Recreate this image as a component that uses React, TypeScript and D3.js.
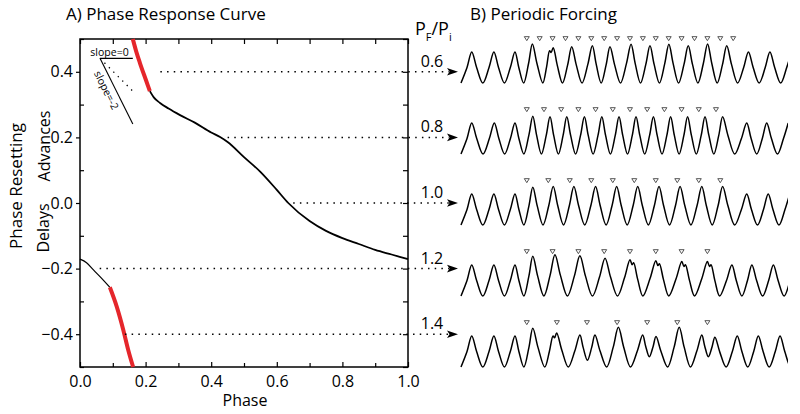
import React, { useEffect, useRef } from 'react';
import * as d3 from 'd3';

// A) phase response curve as [phase, resetting]
const prcUpperRed: [number, number][] = [
  [0.161, 0.5], [0.172, 0.46], [0.183, 0.426], [0.201, 0.375], [0.213, 0.341],
];
const prcUpperBlack: [number, number][] = [
  [0.213, 0.341], [0.225, 0.322], [0.244, 0.305], [0.27, 0.288], [0.305, 0.268],
  [0.35, 0.245], [0.4, 0.215], [0.427, 0.201], [0.45, 0.186], [0.5, 0.14],
  [0.55, 0.095], [0.6, 0.04], [0.635, 0.0], [0.7, -0.055], [0.75, -0.085],
  [0.8, -0.107], [0.85, -0.125], [0.9, -0.143], [0.95, -0.157], [1.0, -0.171],
];
const prcLowerBlack: [number, number][] = [
  [0, -0.171], [0.02, -0.182], [0.041, -0.204], [0.071, -0.235], [0.091, -0.257],
];
const prcLowerRed: [number, number][] = [
  [0.091, -0.257], [0.112, -0.316], [0.132, -0.387], [0.147, -0.448], [0.162, -0.5],
];

const xMajor = [0, 0.2, 0.4, 0.6, 0.8, 1.0];
const xMinor = [0.1, 0.3, 0.5, 0.7, 0.9];
const yMajor = [-0.4, -0.2, 0, 0.2, 0.4];
const yMinor = [-0.5, -0.3, -0.1, 0.1, 0.3, 0.5];

// forcing ratios and the resetting level each one points from
const ratios = ['0.6', '0.8', '1.0', '1.2', '1.4'];
const levels = [0.4, 0.2, 0.0, -0.2, -0.4];
const dotStart = [0.245, 0.45, 0.65, 0.06, 0.137];

// slope guides drawn at the top-left
const slopes = [0, -1, -2];

// B) periodic forcing: peak times (in intrinsic periods) and peak heights
const peaks06 = [0.5, 1.53, 2.51, 3.32, 4.29, 5.15, 6.11, 6.93, 7.91, 8.79, 9.67, 10.57, 11.47, 12.36, 13.37, 14.37, 15.37];
const heights06 = [1, 1, 1, 1.26, 1.14, 1.17, 1.2, 1.17, 1.25, 1.2, 1.25, 1.2, 1.26, 1.2, 1, 1, 1];
const peaks08 = [0.5, 1.55, 2.51, 3.34, 4.14, 4.92, 5.74, 6.55, 7.35, 8.14, 8.95, 9.75, 10.54, 11.35, 12.17, 13.29, 14.22, 15.22];
const heights08 = [1, 1, 1, 1.22, 1.2, 1.2, 1.2, 1.2, 1.2, 1.2, 1.2, 1.2, 1.2, 1.2, 1.2, 1, 1, 1];
const peaks10 = [0.5, 1.53, 2.51, 3.34, 4.29, 5.25, 6.26, 7.24, 8.22, 9.21, 10.19, 11.2, 12.17, 13.29, 14.29, 15.29];
const heights10 = [1, 1, 1, 1.22, 1.24, 1.24, 1.24, 1.24, 1.24, 1.24, 1.24, 1.24, 1.24, 1, 1, 1];
const peaks12 = [0.5, 1.53, 2.51, 3.34, 4.37, 5.53, 6.7, 7.86, 9.06, 10.27, 11.46, 12.6, 13.53, 14.53, 15.53];
const heights12 = [1, 1, 1, 1.28, 1.33, 1.3, 1.22, 1.17, 1.14, 1.11, 1.11, 1, 1, 1, 1];
const peaks14 = [0.5, 1.53, 2.51, 3.34, 4.45, 5.53, 6.23, 7.32, 8.45, 9.07, 10.15, 11.2, 11.81, 12.85, 13.83, 14.84, 15.84];
const heights14 = [1, 1, 1, 1.25, 1.1, 1.03, 1.03, 1.28, 1.03, 0.98, 1.28, 1.03, 0.96, 1, 1, 1, 1];

// stimulus times (triangles)
const stim06 = [3.06, 3.66, 4.26, 4.86, 5.46, 6.06, 6.66, 7.26, 7.86, 8.46, 9.06, 9.66, 10.26, 10.86, 11.46, 12.06, 12.66];
const stim08 = [3.06, 3.86, 4.66, 5.46, 6.26, 7.06, 7.86, 8.66, 9.46, 10.26, 11.06, 11.86];
const stim10 = [3.06, 4.06, 5.06, 6.06, 7.06, 8.06, 9.06, 10.06, 11.06, 12.06];
const stim12 = [3.06, 4.26, 5.46, 6.66, 7.86, 9.06, 10.26, 11.46];
const stim14 = [3.06, 4.46, 5.86, 7.26, 8.66, 10.06, 11.46];

// notched peaks and troughs that do not go all the way down
const notches = [
  { row: 0, peak: 4, side: -1 },
  { row: 3, peak: 7, side: 1 },
  { row: 3, peak: 8, side: 1 },
  { row: 3, peak: 9, side: 1 },
  { row: 3, peak: 10, side: 1 },
  { row: 4, peak: 4, side: -1 },
];
const raisedTroughs = [
  { row: 4, after: 5, level: 0.22 },
  { row: 4, after: 8, level: 0.33 },
  { row: 4, after: 11, level: 0.33 },
];

const allPeaks = [peaks06, peaks08, peaks10, peaks12, peaks14];
const allHeights = [heights06, heights08, heights10, heights12, heights14];
const allStims = [stim06, stim08, stim10, stim12, stim14];

export default function App() {
  const svgRef = useRef<SVGSVGElement>(null);

  useEffect(() => {
    if (!svgRef.current) return;
    const svg = d3.select(svgRef.current);
    svg.selectAll('*').remove();
    const font = "'Open Sans', sans-serif";

    const x = d3.scaleLinear().domain([0, 1]).range([80, 408]);
    const y = d3.scaleLinear().domain([-0.5, 0.5]).range([367, 39]);

    // titles
    svg.append('text').attr('x', 66).attr('y', 19.5).attr('font-size', 17)
      .attr('font-family', font).text('A) Phase Response Curve');
    svg.append('text').attr('x', 470).attr('y', 19.5).attr('font-size', 17)
      .attr('font-family', font).text('B) Periodic Forcing');

    const pf = svg.append('text').attr('x', 415).attr('y', 35).attr('font-size', 18)
      .attr('font-family', font);
    pf.append('tspan').text('P');
    pf.append('tspan').attr('font-size', 11).attr('dy', 6).text('F');
    pf.append('tspan').attr('dy', -6).text('/P');
    pf.append('tspan').attr('font-size', 11).attr('dy', 6).text('i');

    // axes
    const g = svg.append('g');
    const styleAxis = (sel: any) => {
      sel.select('.domain').remove();
      sel.selectAll('line').attr('stroke', '#000').attr('stroke-width', 1.2);
      sel.selectAll('text').attr('font-size', 16).attr('font-family', font).attr('fill', '#000');
    };
    g.append('g').attr('transform', 'translate(0,367)')
      .call(d3.axisBottom(x).tickValues(xMajor).tickSize(-5).tickPadding(9).tickFormat(d3.format('.1f')))
      .call(styleAxis);
    g.append('g').attr('transform', 'translate(0,367)')
      .call(d3.axisBottom(x).tickValues(xMinor).tickSize(-4).tickFormat(() => ''))
      .call(styleAxis);
    g.append('g').attr('transform', 'translate(0,39)')
      .call(d3.axisTop(x).tickValues([...xMajor, ...xMinor]).tickSize(-5).tickFormat(() => ''))
      .call(styleAxis);
    g.append('g').attr('transform', 'translate(80,0)')
      .call(d3.axisLeft(y).tickValues(yMajor).tickSize(4).tickPadding(3).tickFormat(d3.format('.1f')))
      .call(styleAxis);
    g.append('g').attr('transform', 'translate(80,0)')
      .call(d3.axisLeft(y).tickValues(yMinor).tickSize(-4).tickFormat(() => ''))
      .call(styleAxis);
    g.append('g').attr('transform', 'translate(408,0)')
      .call(d3.axisRight(y).tickValues([...yMajor, ...yMinor]).tickSize(-5).tickFormat(() => ''))
      .call(styleAxis);
    g.append('rect').attr('x', 80).attr('y', 39).attr('width', 328).attr('height', 328)
      .attr('fill', 'none').attr('stroke', '#000').attr('stroke-width', 1.5);

    svg.append('text').attr('x', 245).attr('y', 406).attr('text-anchor', 'middle')
      .attr('font-size', 16).attr('font-family', font).text('Phase');
    svg.append('text').attr('transform', 'translate(22,186) rotate(-90)').attr('text-anchor', 'middle')
      .attr('font-size', 17).attr('font-family', font).text('Phase Resetting');
    svg.append('text').attr('transform', 'translate(50,146) rotate(-90)').attr('text-anchor', 'middle')
      .attr('font-size', 16).attr('font-family', font).text('Advances');
    svg.append('text').attr('transform', 'translate(49,228) rotate(-90)').attr('text-anchor', 'middle')
      .attr('font-size', 16).attr('font-family', font).text('Delays');

    // slope guides
    const anchor: [number, number] = [0.061, 0.441];
    slopes.forEach((s) => {
      svg.append('line')
        .attr('x1', x(anchor[0])).attr('y1', y(anchor[1]))
        .attr('x2', x(anchor[0] + 0.1)).attr('y2', y(anchor[1] + s * 0.1))
        .attr('stroke', '#000').attr('stroke-width', s === -1 ? 1.3 : 1.1)
        .attr('stroke-dasharray', s === -1 ? '1.3 5' : null);
    });
    svg.append('text').attr('x', 109.5).attr('y', 56).attr('text-anchor', 'middle')
      .attr('font-size', 10.5).attr('font-family', font).text('slope=0');
    const ang = (Math.atan2(y(anchor[1] - 0.2) - y(anchor[1]), x(anchor[0] + 0.1) - x(anchor[0])) * 180) / Math.PI;
    svg.append('text').attr('transform', `translate(103,92) rotate(${ang})`).attr('text-anchor', 'middle')
      .attr('font-size', 10.5).attr('font-family', font).text('slope=-2');

    // PRC
    const line = d3.line<[number, number]>().x((d) => x(d[0])).y((d) => y(d[1])).curve(d3.curveMonotoneX);
    svg.append('path').attr('d', line(prcUpperBlack)).attr('fill', 'none').attr('stroke', '#000').attr('stroke-width', 1.8);
    svg.append('path').attr('d', line(prcLowerBlack)).attr('fill', 'none').attr('stroke', '#000').attr('stroke-width', 1.2);
    svg.append('path').attr('d', line(prcUpperRed)).attr('fill', 'none').attr('stroke', '#e5262b').attr('stroke-width', 4);
    svg.append('path').attr('d', line(prcLowerRed)).attr('fill', 'none').attr('stroke', '#e5262b').attr('stroke-width', 4);

    // dotted arrows and ratio labels
    levels.forEach((lv, i) => {
      const yy = y(lv);
      svg.append('line').attr('x1', x(dotStart[i])).attr('x2', 449).attr('y1', yy).attr('y2', yy)
        .attr('stroke', '#000').attr('stroke-width', 1.5).attr('stroke-dasharray', '1.5 5.2');
      svg.append('path')
        .attr('d', `M458,${yy} L447,${yy - 3.8} L449.5,${yy} L447,${yy + 3.8} Z`)
        .attr('fill', '#000');
      svg.append('text').attr('x', 432).attr('y', yy - 5).attr('text-anchor', 'middle')
        .attr('font-size', 16).attr('font-family', font).text(ratios[i]);
    });

    // traces
    const t = d3.scaleLinear().domain([0, 15.21]).range([461, 788]);
    const row = d3.scalePoint<string>().domain(ratios).range([83, 367]);
    const amp = d3.scaleLinear().domain([0, 1]).range([0, -31]);
    svg.append('clipPath').attr('id', 'tr').append('rect')
      .attr('x', t(0) - 2).attr('y', 0).attr('width', t(15.21) - t(0) + 2).attr('height', 414);
    const trace = d3.line<[number, number]>().x((d) => t(d[0])).curve(d3.curveCatmullRom.alpha(0.5));

    ratios.forEach((r, ri) => {
      const base = row(r)!;
      const pk = allPeaks[ri];
      const hs = allHeights[ri];
      const ext: [number, number][] = [[pk[0] - 0.5, 0]];
      pk.forEach((p, i) => {
        if (i > 0) {
          const rt = raisedTroughs.find((q) => q.row === ri && q.after === i - 1);
          ext.push([(pk[i - 1] + p) / 2, rt ? rt.level : 0]);
        }
        const n = notches.find((q) => q.row === ri && q.peak === i);
        if (n && n.side < 0) {
          ext.push([p - 0.17, hs[i] - 0.1], [p - 0.1, hs[i] - 0.16]);
        }
        ext.push([p, hs[i]]);
        if (n && n.side > 0) {
          ext.push([p + 0.1, hs[i] - 0.16], [p + 0.17, hs[i] - 0.1]);
        }
      });
      // slightly narrow peaks, broad troughs
      const pts: [number, number][] = [ext[0]];
      for (let i = 1; i < ext.length; i++) {
        const [t0, v0] = ext[i - 1];
        const [t1, v1] = ext[i];
        if (t1 - t0 > 0.2) {
          const f = v1 > v0 ? 0.56 : 0.44;
          pts.push([t0 + f * (t1 - t0), (v0 + v1) / 2]);
        }
        pts.push(ext[i]);
      }
      svg.append('path')
        .attr('d', trace.y((d) => base + amp(d[1]))(pts))
        .attr('clip-path', 'url(#tr)')
        .attr('fill', 'none').attr('stroke', '#000').attr('stroke-width', 1.5);

      svg.append('g').selectAll('path').data(allStims[ri]).join('path')
        .attr('transform', (d) => `translate(${t(d)},${base + amp(1.43)})`)
        .attr('d', 'M-2.5,-2 L2.5,-2 L0,2 Z')
        .attr('fill', '#fff').attr('stroke', '#444').attr('stroke-width', 0.9);
    });
  }, []);

  return (
    <svg
      ref={svgRef}
      width={800}
      height={414}
      style={{ position: 'absolute', left: 0, top: 0, background: '#fff' }}
    />
  );
}
